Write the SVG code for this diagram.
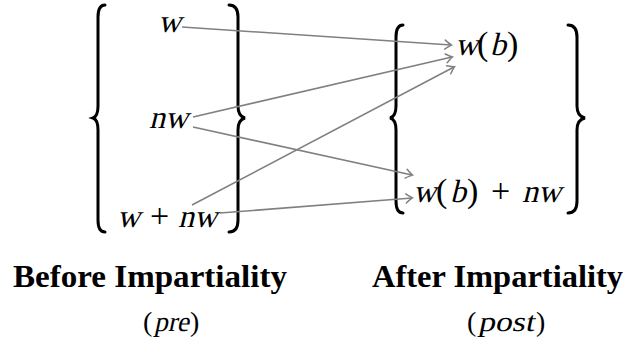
<svg xmlns="http://www.w3.org/2000/svg" width="630" height="348" viewBox="0 0 630 348">
<style>
text{font-family:'Liberation Serif','Times New Roman',serif;fill:#000}
.m{font-size:32px}
.p{font-size:34px}
.b{font-weight:bold;font-size:32px}
.s{font-size:28px}
.br{fill:none;stroke:#000;stroke-width:3;stroke-linecap:round}
.c{fill:none;stroke:#808080;stroke-width:1.6}
</style>
<defs>
<marker id="ar" viewBox="-8 -6 10 12" markerWidth="10" markerHeight="12" refX="0" refY="0" orient="auto" markerUnits="userSpaceOnUse">
<path d="M-6,-4.5 Q-1.5,-1 0.5,0 Q-1.5,1 -6,4.5" fill="none" stroke="#808080" stroke-width="1.5" stroke-linecap="round"/>
</marker>
</defs>
<g id="pre-set">
<path class="br" d="M105,5 C100,5 98,9 98,17 L98,106 C98,113 96,117 93,118 C96,119 98,123 98,130 L98,220 C98,228 100,232 105,232"/>
<path class="br" d="M229,5 C235,5 238,9 238,17 L238,106 C238,113 241,117 245,118 C241,119 238,123 238,130 L238,220 C238,228 235,232 229,232"/>
</g>
<g id="n-w"><text class="m" transform="translate(158,32) skewX(-14)">w</text></g>
<g id="n-nw">
<text class="m" transform="translate(149,128) skewX(-14)">n</text>
<text class="m" transform="translate(165,128) skewX(-14)">w</text>
</g>
<g id="n-wnw">
<text class="m" transform="translate(117,227) skewX(-14)">w</text>
<text class="p" x="150" y="227">+</text>
<text class="m" transform="translate(178,227) skewX(-14)">n</text>
<text class="m" transform="translate(194,227) skewX(-14)">w</text>
</g>
<g id="post-set">
<path class="br" d="M403,25 C398,25 396,29 396,37 L396,106 C396,113 394,117 390,118 C394,119 396,123 396,130 L396,201 C396,209 398,213 403,213"/>
<path class="br" d="M568,25 C574,25 577,29 577,37 L577,106 C577,113 580,117 585,118 C580,119 577,123 577,130 L577,201 C577,209 574,213 568,213"/>
</g>
<g id="n-wb">
<text class="m" transform="translate(455,55) skewX(-14)">w</text>
<text class="p" x="477" y="55">(</text>
<text class="m" transform="translate(490,55) skewX(-14)">b</text>
<text class="p" x="507" y="55">)</text>
</g>
<g id="n-wbnw">
<text class="m" transform="translate(413,202) skewX(-14)">w</text>
<text class="p" x="436" y="202">(</text>
<text class="m" transform="translate(450,202) skewX(-14)">b</text>
<text class="p" x="467" y="202">)</text>
<text class="p" x="491" y="202">+</text>
<text class="m" transform="translate(522,202) skewX(-14)">n</text>
<text class="m" transform="translate(538,202) skewX(-14)">w</text>
</g>
<g id="connectors">
<line class="c" x1="182" y1="27" x2="451" y2="45" marker-end="url(#ar)"/>
<line class="c" x1="193" y1="117" x2="452" y2="57" marker-end="url(#ar)"/>
<line class="c" x1="192" y1="205" x2="454" y2="67" marker-end="url(#ar)"/>
<line class="c" x1="193" y1="127" x2="412" y2="175" marker-end="url(#ar)"/>
<line class="c" x1="220" y1="213" x2="412" y2="198" marker-end="url(#ar)"/>
</g>
<g id="labels">
<text class="b" x="13" y="287" textLength="274" lengthAdjust="spacingAndGlyphs">Before Impartiality</text>
<text class="s" x="143" y="331">(</text>
<text class="s" transform="translate(154,331) skewX(-12)" textLength="35" lengthAdjust="spacingAndGlyphs">pre</text>
<text class="s" x="190" y="331">)</text>
<text class="b" x="372" y="287" textLength="251" lengthAdjust="spacingAndGlyphs">After Impartiality</text>
<text class="s" x="467" y="331">(</text>
<text class="s" transform="translate(478,331) skewX(-12)" textLength="56" lengthAdjust="spacingAndGlyphs">post</text>
<text class="s" x="536" y="331">)</text>
</g>
</svg>
